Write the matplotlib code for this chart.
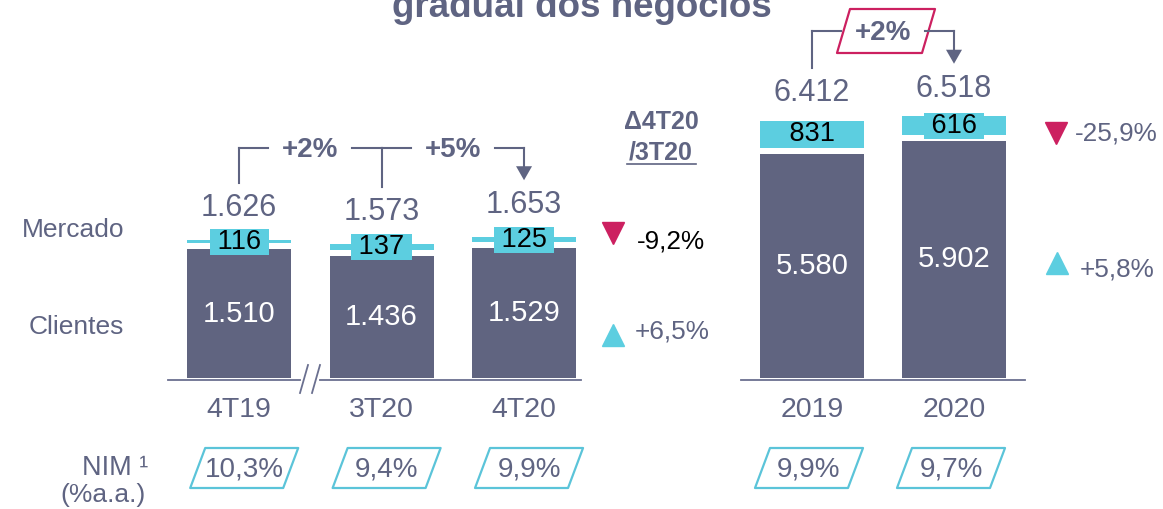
"""Margem financeira: clientes x mercado, trimestral e anual."""
import matplotlib
matplotlib.use('Agg')
import matplotlib.pyplot as plt
from matplotlib.lines import Line2D
from matplotlib.patches import Polygon

plt.rcParams['font.family'] = ['Liberation Sans', 'DejaVu Sans']

# ── dados ─────────────────────────────────────────────────────────────────────
cats_q     = ['4T19', '3T20', '4T20']
clientes_q = [1510, 1436, 1529]
mercado_q  = [116, 137, 125]
total_q    = [1626, 1573, 1653]
nim_q      = [10.3, 9.4, 9.9]
growth_q   = [2, 5]

cats_y     = ['2019', '2020']
clientes_y = [5580, 5902]
mercado_y  = [831, 616]
total_y    = [6412, 6518]
nim_y      = [9.9, 9.7]
growth_y   = [2]

delta_q = {'mercado': -9.2, 'clientes': 6.5}
delta_y = {'mercado': -25.9, 'clientes': 5.8}

# ── estilo ────────────────────────────────────────────────────────────────────
W, H  = 1163, 509
DARK  = '#606480'
CYAN  = '#5ccee0'
CYAN2 = '#5bc4d9'
GREY  = '#5f6482'
PINK  = '#cc2060'
AXIS  = '#6b7090'

fig = plt.figure(figsize=(W / 100, H / 100), dpi=100)


def fx(x):
    return x / W


def fy(y):
    return 1 - y / H


def fline(xs, ys, **kw):
    kw.setdefault('color', GREY)
    kw.setdefault('lw', 1.5)
    fig.add_artist(Line2D([fx(v) for v in xs], [fy(v) for v in ys],
                          transform=fig.transFigure, **kw))


def fpoly(pts, **kw):
    fig.add_artist(Polygon([(fx(a), fy(b)) for a, b in pts],
                           transform=fig.transFigure, **kw))


def to_px(ax, x, y):
    X, Y = ax.transData.transform((x, y))
    return X, H - Y


def br(v, dec=0):
    s = f'{v:,.{dec}f}'
    return s.replace(',', '#').replace('.', ',').replace('#', '.')


def make_axes(left, right, base, upp, xmax):
    ax = fig.add_axes([fx(left), fy(base + 2), (right - left) / W, (base + 2) / H])
    ax.set_xlim(-0.5, xmax)
    ax.set_ylim(-2 * upp, base * upp)
    for s in ('top', 'left', 'right'):
        ax.spines[s].set_visible(False)
    ax.spines['bottom'].set_color(AXIS)
    ax.spines['bottom'].set_linewidth(1.3)
    ax.set_yticks([])
    ax.tick_params(axis='x', length=0, pad=12, labelsize=20.5, labelcolor=GREY)
    ax.patch.set_alpha(0)
    return ax


def draw_group(ax, cats, clientes, mercado, totals, nims, growth, upp,
               lab_off, line_y, boxed, nim_dx):
    gap = 6 * upp
    xs = list(range(len(cats)))
    ax.bar(xs, clientes, width=0.73, color=DARK)
    ax.bar(xs, [m - gap for m in mercado], bottom=[c + gap for c in clientes],
           width=0.73, color=CYAN)
    ax.set_xticks(xs)
    ax.set_xticklabels(cats)

    for i, (c, m, t) in enumerate(zip(clientes, mercado, totals)):
        ax.text(i, c / 2, br(c), ha='center', va='center', color='white', fontsize=21)
        ax.text(i, c + gap + (m - gap) / 2, f' {m} ', ha='center', va='center',
                color='black', fontsize=19.5,
                bbox=dict(boxstyle='square,pad=0', fc=CYAN, ec='none'))
        ax.annotate(br(t), xy=(i, c + m), xytext=(0, lab_off * 0.72),
                    textcoords='offset points', ha='center', va='center',
                    color=GREY, fontsize=22)

    # colchetes de crescimento
    px = [to_px(ax, i, c + m) for i, (c, m) in enumerate(zip(clientes, mercado))]
    for i, (x, ytop) in enumerate(px):
        y_end = ytop - lab_off - 25
        if i == len(px) - 1:
            fline([x, x], [line_y, y_end - 12])
            fpoly([(x - 8, y_end - 14), (x + 8, y_end - 14), (x, y_end)],
                  closed=True, fc=GREY, ec='none')
        else:
            fline([x, x], [line_y, y_end])
    for k, g in enumerate(growth):
        a, b = px[k][0], px[k + 1][0]
        mid = (a + b) / 2
        fline([a, mid - 42], [line_y, line_y])
        fline([mid + 42, b], [line_y, line_y])
        if boxed:
            cx, cy = mid + 3, line_y
            fpoly([(cx - 49, cy + 22), (cx - 36, cy - 22),
                   (cx + 49, cy - 22), (cx + 36, cy + 22)],
                  closed=True, fill=False, ec=PINK, lw=1.6, joinstyle='round')
        fig.text(fx(mid), fy(line_y + 2), f'+{g}%', ha='center', va='center',
                 color=GREY, fontsize=20, fontweight='bold')

    # NIM
    for i, v in enumerate(nims):
        x = px[i][0] + nim_dx
        cy = 468
        fpoly([(x - 54, cy + 20), (x - 39, cy - 20), (x + 54, cy - 20), (x + 39, cy + 20)],
              closed=True, fill=False, ec=CYAN2, lw=1.6, joinstyle='round')
        fig.text(fx(x), fy(cy + 2), br(v, 1) + '%', ha='center', va='center',
                 color=GREY, fontsize=20)


ax_q = make_axes(168, 581, 378, 11.75, 2.4)
ax_y = make_axes(741, 1025, 378, 24.9, 1.5)

draw_group(ax_q, cats_q, clientes_q, mercado_q, total_q, nim_q, growth_q,
           11.75, 32, 148, boxed=False, nim_dx=5)
draw_group(ax_y, cats_y, clientes_y, mercado_y, total_y, nim_y, growth_y,
           24.9, 27.5, 31, boxed=True, nim_dx=-3)

# quebra no eixo
fline([303, 317], [380, 380], color='white', lw=3)
fline([300, 308], [393, 365], color=AXIS, lw=1.3)
fline([312, 320], [393, 365], color=AXIS, lw=1.3)

# rótulos laterais
fig.text(fx(124), fy(230), 'Mercado', ha='right', va='center', color=GREY, fontsize=19)
fig.text(fx(124), fy(327), 'Clientes', ha='right', va='center', color=GREY, fontsize=19)
fig.text(fx(148), fy(468), 'NIM ¹', ha='right', va='center', color=GREY, fontsize=19.5)
fig.text(fx(146), fy(495), '(%a.a.)', ha='right', va='center', color=GREY, fontsize=19)

# variações
fig.text(fx(661), fy(122), 'Δ4T20', ha='center', va='center', color=GREY,
         fontsize=18, fontweight='bold')
fig.text(fx(661), fy(153), '/3T20', ha='center', va='center', color=GREY,
         fontsize=18, fontweight='bold')
fline([627, 696], [164, 164], lw=1.2)


def delta(x_tri, y_tri, x_txt, y_txt, v, txt_color):
    up = v > 0
    fig.add_artist(Line2D([fx(x_tri)], [fy(y_tri)], marker='^' if up else 'v',
                          markersize=16, color=CYAN if up else PINK, ls='none',
                          transform=fig.transFigure))
    s = ('+' if up else '') + br(v, 1) + '%'
    fig.text(fx(x_txt), fy(y_txt), s, ha='left', va='center', color=txt_color, fontsize=18.8)


delta(613, 233, 637, 241, delta_q['mercado'], 'black')
delta(613, 335, 635, 331, delta_q['clientes'], GREY)
delta(1056, 133, 1075, 134, delta_y['mercado'], GREY)
delta(1057, 263, 1080, 269, delta_y['clientes'], GREY)

# título (cortado no topo)
fig.text(fx(582), fy(17), 'gradual dos negócios', ha='center', va='baseline',
         color=GREY, fontsize=26.5, fontweight='bold')

fig.savefig('out.png', dpi=100, facecolor='white')
